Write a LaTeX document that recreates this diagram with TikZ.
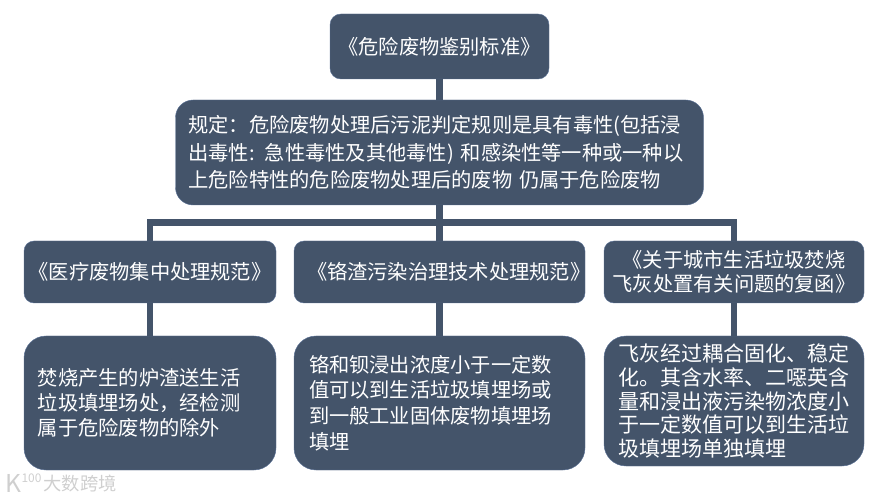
\documentclass[tikz,border=0pt]{standalone}
\usepackage{fontspec}
\setmainfont{Noto Sans CJK SC}
\usetikzlibrary{positioning}
\definecolor{stdBlue}{HTML}{44546A}
\definecolor{stdEdge}{HTML}{5A7196}
\definecolor{stdMark}{HTML}{CFCFCF}

\begin{document}
\begin{tikzpicture}[node distance=0.45cm,
    stdbox/.style={draw=stdEdge, line width=0.3pt, fill=stdBlue, text=white, inner sep=0pt, outer sep=0pt, align=center, font=\fontsize{14.4}{17.5}\selectfont},
    stdlink/.style={draw=stdBlue, line width=0.1625cm},
    wmark/.style={text=stdMark, inner sep=0pt, outer sep=0pt}]
  \useasboundingbox (0,0) rectangle (22.175,12.5);

  \node[stdbox, rounded corners=0.27cm, minimum width=5.475cm, minimum height=1.625cm] (gbstd) at (10.9875,11.3375) {《危险废物鉴别标准》};
  \node[stdbox, rounded corners=0.44cm, below=0.525cm of gbstd, minimum width=13.2cm, minimum height=2.625cm, text width=12.55cm, align=left, font=\fontsize{14.4}{19.5}\selectfont] (rule) {规定：危险废物处理后污泥判定规则是具有毒性(包括浸\\出毒性: 急性毒性及其他毒性) 和感染性等一种或一种以\\上危险特性的危险废物处理后的废物 仍属于危险废物};

  \node[stdbox, rounded corners=0.25cm, below=0.9cm of rule, minimum width=7.275cm, minimum height=1.55cm, text width=6.625cm, align=left] (chrom) {《铬渣污染治理技术处理规范》};
  \node[stdbox, rounded corners=0.25cm, left=0.45cm of chrom, minimum width=6.3cm, minimum height=1.55cm] (medical) {《医疗废物集中处理规范》};
  \node[stdbox, rounded corners=0.25cm, right=0.475cm of chrom, minimum width=6.5cm, minimum height=1.55cm, font=\fontsize{14.4}{17}\selectfont] (ash) {《关于城市生活垃圾焚烧\\飞灰处置有关问题的复函》};

  \node[stdbox, rounded corners=0.55cm, below=0.825cm of medical, minimum width=6.3cm, minimum height=3.35cm, text width=5.6cm, align=left, font=\fontsize{14.4}{17.8}\selectfont] (medicalnote) {焚烧产生的炉渣送生活\\垃圾填埋场处，经检测\\属于危险废物的除外};
  \node[stdbox, rounded corners=0.55cm, below=0.825cm of chrom, minimum width=7.275cm, minimum height=3.35cm, text width=6.525cm, align=left, font=\fontsize{14.4}{18.3}\selectfont] (chromnote) {铬和钡浸出浓度小于一定数\\值可以到生活垃圾填埋场或\\到一般工业固体废物填埋场\\填埋};
  \node[stdbox, rounded corners=0.55cm, below=0.825cm of ash, minimum width=6.5cm, minimum height=3.25cm, text width=5.8cm, align=left, font=\fontsize{14.94}{16.8}\selectfont] (ashnote) {飞灰经过耦合固化、稳定\\化。其含水率、二噁英含\\量和浸出液污染物浓度小\\于一定数值可以到生活垃\\圾填埋场单独填埋};

  \coordinate[below=0.4375cm of rule] (bus);
  \draw[stdlink] (gbstd) -- (rule);
  \draw[stdlink] (rule) -- (chrom);
  \draw[stdlink] (bus) -| (medical.north);
  \draw[stdlink] (bus) -| (ash.north);
  \draw[stdlink] (medical) -- (medicalnote);
  \draw[stdlink] (chrom) -- (chromnote);
  \draw[stdlink] (ash) -- (ashnote);

  \node[wmark, font=\fontsize{13}{13}\selectfont] (wmtext) at (2.0,0.42) {大数跨境};
  \node[wmark, font=\fontsize{17.5}{17.5}\selectfont] (wmk) at (0.34,0.42) {K};
  \node[wmark, anchor=north west, font=\fontsize{8.5}{8.5}\selectfont] (wmnum) at (wmk.north east) {100};
\end{tikzpicture}
\end{document}
